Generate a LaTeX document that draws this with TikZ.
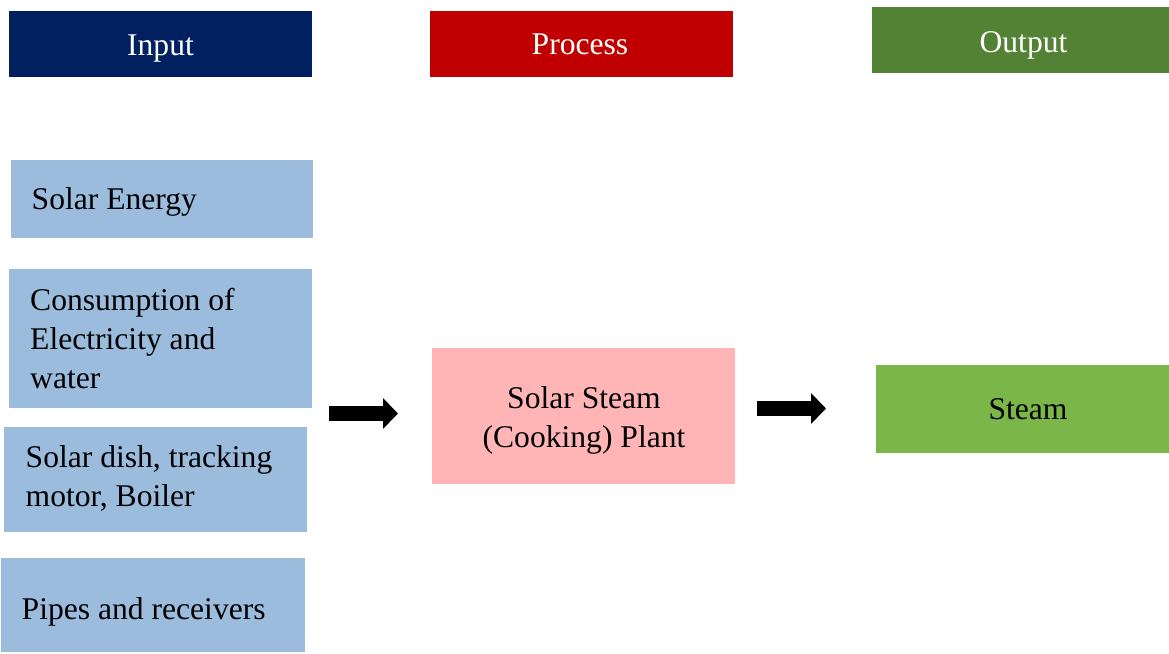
\documentclass[tikz,border=0pt]{standalone}
\usepackage{fontspec}
\setmainfont{Liberation Serif}
\usetikzlibrary{arrows.meta}
\definecolor{navy}{HTML}{002060}
\definecolor{darkred}{HTML}{C00000}
\definecolor{darkgreen}{HTML}{548235}
\definecolor{lightblue}{HTML}{9BBCDC}
\definecolor{pink}{HTML}{FFB5B5}
\definecolor{steamgreen}{HTML}{7AB648}
\newcommand{\bigfont}{\fontsize{31.6pt}{39pt}\selectfont}
\newcommand{\lines}[2]{\begin{tabular}[t]{@{}#1@{}}#2\end{tabular}}
\tikzset{
  box/.style={rectangle, inner sep=0pt, draw=none},
  txt/.style={inner sep=0pt, font=\bigfont, text=black},
  htxt/.style={txt, text=white, anchor=base}
}
\begin{document}
\begin{tikzpicture}[x=1pt,y=-1pt]
\useasboundingbox (0,0) rectangle (1169,653);
% headers
\node[box, fill=navy, minimum width=303pt, minimum height=66pt] (hin) at (160.5,44) {};
\node[box, fill=darkred, minimum width=303pt, minimum height=66pt] (hproc) at (581.5,44) {};
\node[box, fill=darkgreen, minimum width=297pt, minimum height=66pt] (hout) at (1020.5,40) {};
\node[htxt] (hin-t) at (160.5,55) {Input};
\node[htxt] (hproc-t) at (580,54) {Process};
\node[htxt] (hout-t) at (1023.5,52) {Output};
% inputs
\node[box, fill=lightblue, minimum width=302pt, minimum height=78pt] (solar) at (162,199) {};
\node[box, fill=lightblue, minimum width=303pt, minimum height=139pt] (cons) at (160.5,338.5) {};
\node[box, fill=lightblue, minimum width=303pt, minimum height=105pt] (dish) at (155.5,479.5) {};
\node[box, fill=lightblue, minimum width=304pt, minimum height=94pt] (pipes) at (153,605) {};
\node[txt, anchor=base west] (solar-t) at (31.5,209) {Solar Energy};
\node[txt, anchor=base west] (cons-t) at (30,310) {\lines{l}{Consumption of\\Electricity and\\water}};
\node[txt, anchor=base west] (dish-t) at (25.5,467) {\lines{l}{Solar dish, tracking\\motor, Boiler}};
\node[txt, anchor=base west] (pipes-t) at (21.5,619) {Pipes and receivers};
% process
\node[box, fill=pink, minimum width=303pt, minimum height=136pt] (plant) at (583.5,416) {};
\node[txt, anchor=base] (plant-t) at (584,408) {\lines{c}{Solar Steam\\(Cooking) Plant}};
% output
\node[box, fill=steamgreen, minimum width=293pt, minimum height=88pt] (steam) at (1022.5,409) {};
\node[txt, anchor=base] (steam-t) at (1028,419) {Steam};
% arrows
\coordinate (a1s) at (329,413.5);
\coordinate (a1e) at (398,413.5);
\coordinate (a2s) at (757,408.5);
\coordinate (a2e) at (826,408.5);
\draw[line width=15pt, -{Triangle[length=15pt,width=30pt]}, black] (a1s) -- (a1e);
\draw[line width=15pt, -{Triangle[length=15pt,width=30pt]}, black] (a2s) -- (a2e);
\end{tikzpicture}
\end{document}
